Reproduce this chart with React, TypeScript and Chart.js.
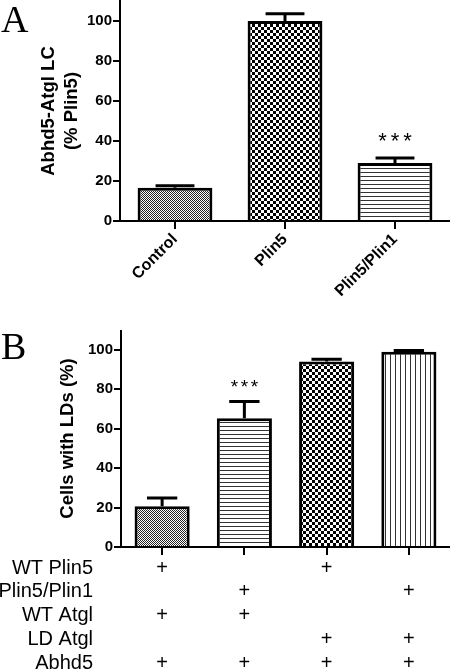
import React, { useEffect, useRef } from 'react';
import { Chart, registerables } from 'chart.js';

Chart.register(...registerables);

// ---------- Data: panel A ----------
const categoriesA = ['Control', 'Plin5', 'Plin5/Plin1'];
const valuesA = [16.6, 100, 29.0];
const errorsA = [1.0, 3.6, 2.5];
const starsA = ['', '', '***'];
const patternsA = ['fine', 'coarse', 'hlines'];

// ---------- Data: panel B ----------
const categoriesB = ['1', '2', '3', '4'];
const valuesB = [20.6, 65.3, 94.0, 99.0];
const errorsB = [4.2, 8.4, 1.2, 0.6];
const starsB = ['', '***', '', ''];
const patternsB = ['fine', 'hlines', 'coarse', 'vlines'];

const rowLabelsB = ['WT Plin5', 'Plin5/Plin1', 'WT Atgl', 'LD Atgl', 'Abhd5'];
const rowWtPlin5 = [true, false, true, false];
const rowPlin5Plin1 = [false, true, false, true];
const rowWtAtgl = [true, true, false, false];
const rowLdAtgl = [false, false, true, true];
const rowAbhd5 = [true, true, true, true];
const rowMarksB = [rowWtPlin5, rowPlin5Plin1, rowWtAtgl, rowLdAtgl, rowAbhd5];

const yTicks = [0, 20, 40, 60, 80, 100];

const FONT = "'Liberation Sans', Arial, sans-serif";

function makePattern(kind: string): CanvasPattern | string {
  const c = document.createElement('canvas');
  let w = 2, h = 2;
  if (kind === 'coarse') { w = 6; h = 6; }
  if (kind === 'hlines') { w = 4; h = 4; }
  if (kind === 'vlines') { w = 5; h = 5; }
  c.width = w; c.height = h;
  const g = c.getContext('2d')!;
  g.fillStyle = '#fff';
  g.fillRect(0, 0, w, h);
  if (kind === 'fine') {
    g.fillStyle = '#222';
    g.fillRect(0, 0, 1, 1);
    g.fillRect(1, 1, 1, 1);
  } else if (kind === 'coarse') {
    g.fillStyle = '#000';
    g.fillRect(0, 0, 3, 3);
    g.fillRect(3, 3, 3, 3);
  } else if (kind === 'hlines') {
    g.fillStyle = '#333';
    g.fillRect(0, 0, w, 1);
  } else if (kind === 'vlines') {
    g.fillStyle = '#333';
    g.fillRect(0, 0, 1, h);
  }
  const p = g.createPattern(c, 'repeat');
  return p || '#888';
}

const errorPlugin = {
  id: 'errbars',
  afterDatasetsDraw(chart: any, _args: any, opts: any) {
    const { ctx } = chart;
    const meta = chart.getDatasetMeta(0);
    const yScale = chart.scales.y;
    const data = chart.data.datasets[0].data as number[];
    ctx.save();
    ctx.strokeStyle = '#000';
    ctx.lineWidth = 3;
    meta.data.forEach((bar: any, i: number) => {
      const v = data[i];
      const base = yScale.getPixelForValue(v);
      const top = yScale.getPixelForValue(v + opts.errors[i]);
      const half = (bar.width * opts.capRatio) / 2;
      ctx.beginPath();
      ctx.moveTo(bar.x, base);
      ctx.lineTo(bar.x, top);
      ctx.moveTo(bar.x - half, top);
      ctx.lineTo(bar.x + half, top);
      ctx.stroke();
      const s = opts.stars[i];
      if (s) {
        ctx.fillStyle = '#000';
        ctx.font = `${opts.starSize}px ${FONT}`;
        ctx.textAlign = 'center';
        ctx.textBaseline = 'alphabetic';
        const cy = top - opts.starGap;
        const n = s.length;
        for (let k = 0; k < n; k++) {
          const cx = bar.x + (k - (n - 1) / 2) * opts.starSpacing;
          ctx.fillText('*', cx, cy + opts.starSize * 0.58);
        }
      }
    });
    ctx.restore();
  },
};

const tablePlugin = {
  id: 'condTable',
  afterDraw(chart: any, _args: any, opts: any) {
    if (!opts || !opts.rows) return;
    const { ctx } = chart;
    const x = chart.scales.x;
    const bottom = chart.chartArea.bottom;
    ctx.save();
    ctx.fillStyle = '#000';
    ctx.font = `20px ${FONT}`;
    ctx.textBaseline = 'middle';
    opts.rows.forEach((label: string, r: number) => {
      const y = bottom + opts.firstRow + r * opts.rowGap;
      ctx.textAlign = 'right';
      ctx.fillText(label, opts.labelRight, y);
      ctx.textAlign = 'center';
      opts.marks[r].forEach((m: boolean, i: number) => {
        if (m) ctx.fillText('+', x.getPixelForValue(i), y);
      });
    });
    ctx.restore();
  },
};

function zeroPad(s: any) {
  s.paddingTop = 0;
  s.paddingBottom = 0;
  s.paddingLeft = 0;
  s.paddingRight = 0;
}

function baseOptions(
  yWidth: number,
  xHeight: number,
  topPad: number,
  yTitle: string | string[],
  titlePad: number,
  showXLabels: boolean
): any {
  return {
    responsive: false,
    animation: false,
    layout: { padding: { top: topPad, left: 0, right: 0, bottom: 0 } },
    plugins: {
      legend: { display: false },
      tooltip: { enabled: false },
    },
    scales: {
      x: {
        offset: true,
        afterFit: (s: any) => { s.height = xHeight; zeroPad(s); },
        grid: {
          offset: false,
          drawOnChartArea: false,
          drawTicks: true,
          tickLength: 8,
          lineWidth: 2,
          color: '#000',
        },
        border: { display: true, color: '#000', width: 2 },
        ticks: {
          display: showXLabels,
          minRotation: 45,
          maxRotation: 45,
          autoSkip: false,
          padding: 1,
          color: '#000',
          font: { family: FONT, size: 16, weight: 'bold' },
        },
      },
      y: {
        min: 0,
        max: 110,
        afterFit: (s: any) => { s.width = yWidth; zeroPad(s); },
        afterBuildTicks: (s: any) => {
          s.ticks = yTicks.map((v) => ({ value: v }));
        },
        grid: {
          drawOnChartArea: false,
          drawTicks: true,
          tickLength: 7,
          lineWidth: 2,
          color: '#000',
        },
        border: { display: true, color: '#000', width: 2 },
        ticks: {
          padding: 1,
          color: '#000',
          font: { family: FONT, size: 15, weight: 'bold' },
        },
        title: {
          display: true,
          text: yTitle,
          color: '#000',
          padding: { top: titlePad, bottom: 0 },
          font: { family: FONT, size: 18.5, weight: 'bold', lineHeight: 1.27 },
        },
      },
    },
  };
}

function PanelA() {
  const ref = useRef<HTMLCanvasElement>(null);
  useEffect(() => {
    const opts = baseOptions(120, 109, 1, ['Abhd5-Atgl LC', '(% Plin5)'], 37, true);
    opts.plugins.errbars = {
      errors: errorsA,
      stars: starsA,
      capRatio: 0.52,
      starSize: 22,
      starGap: 23,
      starSpacing: 12.5,
    };
    const chart = new Chart(ref.current!, {
      type: 'bar',
      data: {
        labels: categoriesA,
        datasets: [
          {
            data: valuesA,
            backgroundColor: patternsA.map(makePattern) as any,
            borderColor: '#000',
            borderWidth: 3,
            borderSkipped: 'bottom',
            barPercentage: 0.68,
            categoryPercentage: 1,
          },
        ],
      },
      options: opts,
      plugins: [errorPlugin],
    });
    return () => chart.destroy();
  }, []);
  return <canvas ref={ref} width={450} height={330} style={{ display: 'block' }} />;
}

function PanelB() {
  const ref = useRef<HTMLCanvasElement>(null);
  useEffect(() => {
    const opts = baseOptions(121, 124, 0, 'Cells with LDs (%)', 56, false);
    opts.plugins.errbars = {
      errors: errorsB,
      stars: starsB,
      capRatio: 0.55,
      starSize: 19,
      starGap: 20,
      starSpacing: 10,
    };
    opts.plugins.condTable = {
      rows: rowLabelsB,
      marks: rowMarksB,
      labelRight: 93,
      firstRow: 21,
      rowGap: 23.8,
    };
    const chart = new Chart(ref.current!, {
      type: 'bar',
      data: {
        labels: categoriesB,
        datasets: [
          {
            data: valuesB,
            backgroundColor: patternsB.map(makePattern) as any,
            borderColor: '#000',
            borderWidth: 3,
            borderSkipped: 'bottom',
            barPercentage: 0.67,
            categoryPercentage: 1,
          },
        ],
      },
      options: opts,
      plugins: [errorPlugin, tablePlugin],
    });
    return () => chart.destroy();
  }, []);
  return <canvas ref={ref} width={450} height={341} style={{ display: 'block' }} />;
}

const letterStyle: React.CSSProperties = {
  position: 'absolute',
  left: 1,
  fontFamily: "'Liberation Serif', 'Times New Roman', serif",
  fontSize: 38,
  lineHeight: '38px',
  color: '#000',
};

export default function App() {
  return (
    <div
      style={{
        position: 'absolute',
        left: 0,
        top: 0,
        width: 450,
        height: 671,
        background: '#fff',
        overflow: 'hidden',
      }}
    >
      <PanelA />
      <PanelB />
      <div style={{ ...letterStyle, top: 0 }}>A</div>
      <div style={{ ...letterStyle, top: 327 }}>B</div>
    </div>
  );
}
